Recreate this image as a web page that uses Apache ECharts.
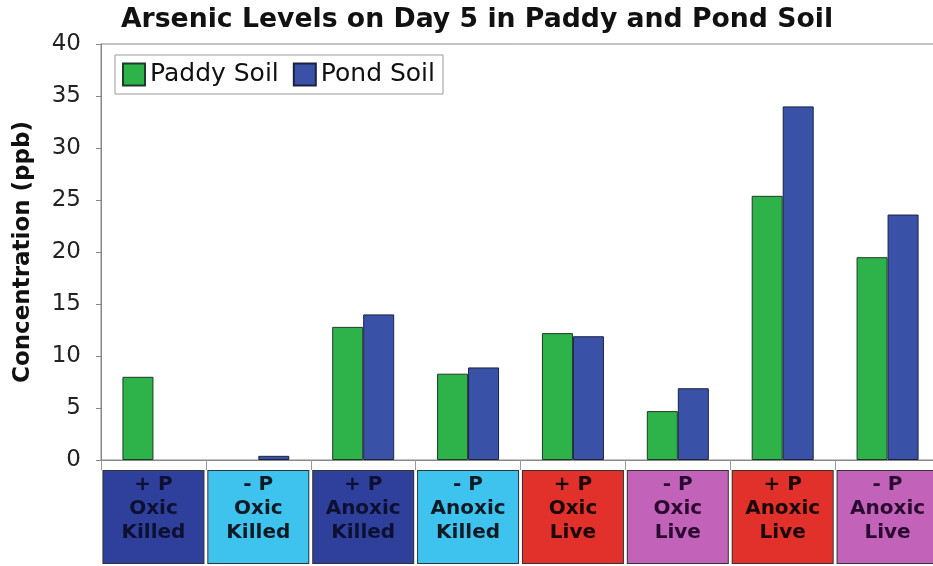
<!DOCTYPE html>
<html>
<head>
<meta charset="utf-8">
<script src="https://cdn.jsdelivr.net/npm/echarts@6/dist/echarts.min.js"></script>
<style>
html,body{margin:0;padding:0;background:#fff;}
#chart{width:933px;height:566px;}
</style>
</head>
<body>
<div id="chart"></div>
<script>
var categories = ['+ P\nOxic\nKilled', '- P\nOxic\nKilled', '+ P\nAnoxic\nKilled', '- P\nAnoxic\nKilled', '+ P\nOxic\nLive', '- P\nOxic\nLive', '+ P\nAnoxic\nLive', '- P\nAnoxic\nLive'];
var paddySoil = [8.0, null, 12.8, 8.3, 12.2, 4.7, 25.4, 19.5];
var pondSoil = [null, 0.4, 14.0, 8.9, 11.9, 6.9, 34.0, 23.6];
var boxColors = ['#2f3f9c', '#3ec3ee', '#2f3f9c', '#3ec3ee', '#e2302a', '#c262b9', '#e2302a', '#c262b9'];
var textColors = ['#0d1030', '#0d1a24', '#0d1030', '#0d1a24', '#1a0808', '#2a0a30', '#1a0808', '#2a0a30'];
var yTicks = [0, 5, 10, 15, 20, 25, 30, 35, 40];

var FONT = '"DejaVu Sans", Verdana, sans-serif';
var chart = echarts.init(document.getElementById('chart'));

var catData = categories.map(function (c, i) {
  return {
    value: c,
    textStyle: {
      backgroundColor: boxColors[i],
      borderColor: '#333',
      borderWidth: 1,
      width: 100,
      height: 72,
      lineHeight: 24,
      padding: [2, 0, 18, 0],
      align: 'center',
      verticalAlign: 'top',
      color: textColors[i],
      fontWeight: 'bold',
      fontSize: 20,
      fontFamily: FONT
    }
  };
});

chart.setOption({
  animation: false,
  backgroundColor: '#fff',
  title: {
    text: 'Arsenic Levels on Day 5 in Paddy and Pond Soil',
    left: 472,
    textAlign: 'center',
    top: 2,
    textStyle: { fontFamily: FONT, fontWeight: 'bold', fontSize: 26.7, color: '#111' }
  },
  legend: {
    left: 115,
    top: 55,
    orient: 'horizontal',
    icon: 'rect',
    itemWidth: 22,
    itemHeight: 22,
    itemGap: 14,
    itemTextGap: 5,
    padding: [7, 8, 7, 7],
    borderColor: '#999',
    borderWidth: 1,
    backgroundColor: '#fff',
    textStyle: { fontFamily: FONT, fontSize: 25, color: '#111' },
    data: ['Paddy Soil', 'Pond Soil']
  },
  grid: {
    left: 101,
    top: 44,
    width: 839,
    height: 416,
    show: true,
    borderColor: '#888',
    borderWidth: 1,
    containLabel: false,
    outerBoundsMode: 'none'
  },
  xAxis: {
    type: 'category',
    data: catData,
    axisLine: { lineStyle: { color: '#888', width: 1 } },
    axisTick: { show: true, length: 10, lineStyle: { color: '#999' }, alignWithLabel: false },
    axisLabel: { margin: 11, interval: 0 }
  },
  yAxis: {
    type: 'value',
    min: 0,
    max: 40,
    interval: 5,
    name: 'Concentration (ppb)',
    nameLocation: 'middle',
    nameGap: 66,
    nameTextStyle: { fontFamily: FONT, fontWeight: 'bold', fontSize: 23, color: '#111' },
    axisLine: { show: true, lineStyle: { color: '#888', width: 1 } },
    axisTick: { show: true, length: 5, lineStyle: { color: '#888' } },
    axisLabel: {
      margin: 20,
      fontFamily: FONT, fontSize: 23, color: '#222',
      formatter: function (v) { return yTicks.indexOf(v) >= 0 ? String(v) : ''; }
    },
    splitLine: { show: false }
  },
  series: [
    {
      name: 'Paddy Soil',
      type: 'bar',
      data: paddySoil,
      barWidth: 31,
      barGap: '0%',
      itemStyle: { color: '#2eb34b', borderColor: '#1f3a28', borderWidth: 1 }
    },
    {
      name: 'Pond Soil',
      type: 'bar',
      data: pondSoil,
      barWidth: 31,
      barGap: '0%',
      itemStyle: { color: '#3a51a8', borderColor: '#1a2240', borderWidth: 1 }
    }
  ]
});
</script>
</body>
</html>
